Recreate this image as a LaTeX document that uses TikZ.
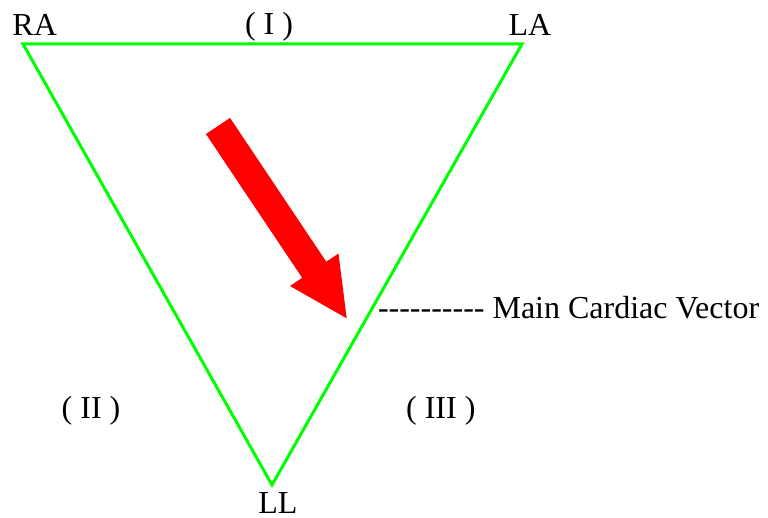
\documentclass[tikz,border=0pt]{standalone}
\usepackage{fontspec}
\setmainfont{Liberation Serif}
\usetikzlibrary{calc}
\newcommand{\hy}{-\kern0pt\relax}
\definecolor{leadgreen}{RGB}{0,255,0}
\definecolor{vecred}{RGB}{255,0,0}
\tikzset{
  lbl/.style={anchor=base, inner sep=0pt, outer sep=0pt, font=\fontsize{32}{36}\selectfont},
  leadline/.style={draw=leadgreen, line width=3pt, line join=miter},
  vector/.style={fill=vecred, draw=none}
}
\begin{document}
\begin{tikzpicture}[x=1pt,y=-1pt]
\useasboundingbox (0,0) rectangle (768,518);
% triangle corners
\coordinate (ra) at (23,44);
\coordinate (la) at (522,44);
\coordinate (ll) at (272,485);
\draw[leadline] (ra) -- (la) -- (ll) -- cycle;
% labels
\node[lbl] (raL) at (34.7,35.5) {RA};
\node[lbl] (laL) at (530,35.5) {LA};
\node[lbl] (iL) at (269,35) {( I )};
\node[lbl] (iiL) at (91,418.3) {( II )};
\node[lbl] (iiiL) at (440.8,418.3) {( III )};
\node[lbl] (llL) at (277.8,513.5) {LL};
\node[lbl, anchor=base west] (mcv) at (378,319) {\hy\hy\hy\hy\hy\hy\hy\hy\hy\hy{} Main Cardiac Vector};
% main cardiac vector arrow
\coordinate (tail) at (218,126);
\coordinate (tip) at (346.7,318.3);
\coordinate (base) at ($(tip)!58.4pt!(tail)$);
\fill[vector]
  ($(tail)!14.5pt!90:(tip)$) --
  ($(base)!14.5pt!-90:(tail)$) --
  ($(base)!29.2pt!-90:(tail)$) --
  (tip) --
  ($(base)!29.2pt!90:(tail)$) --
  ($(base)!14.5pt!90:(tail)$) --
  ($(tail)!14.5pt!-90:(tip)$) -- cycle;
\end{tikzpicture}
\end{document}
